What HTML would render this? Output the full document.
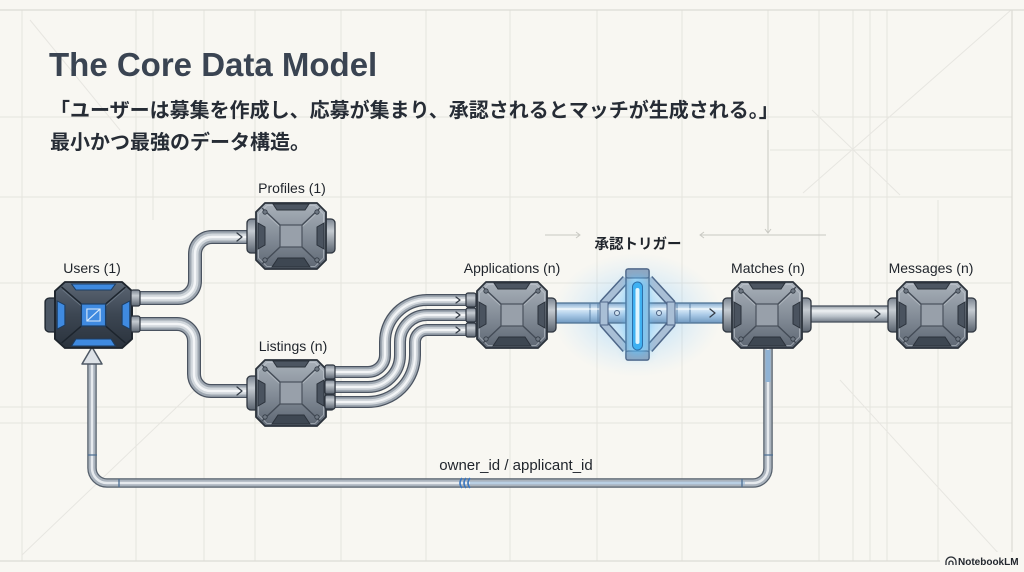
<!DOCTYPE html>
<html><head><meta charset="utf-8">
<style>
html,body{margin:0;padding:0;background:#f8f7f2;overflow:hidden;}
svg{display:block}
.lbl{font-family:"Liberation Sans","Noto Sans CJK JP",sans-serif;font-size:14px;fill:#1f242b;}
</style></head><body>
<svg width="1024" height="572" viewBox="0 0 1024 572" xmlns="http://www.w3.org/2000/svg">
<defs>
  <linearGradient id="gBody" x1="0" y1="0" x2="0" y2="1">
    <stop offset="0" stop-color="#a9b1ba"/><stop offset="0.5" stop-color="#858e99"/><stop offset="1" stop-color="#5d6672"/>
  </linearGradient>
  <linearGradient id="gBodyU" x1="0" y1="0" x2="0" y2="1">
    <stop offset="0" stop-color="#5c6774"/><stop offset="0.5" stop-color="#3c4652"/><stop offset="1" stop-color="#2a323c"/>
  </linearGradient>
  <linearGradient id="gBump" x1="0" y1="0" x2="0" y2="1">
    <stop offset="0" stop-color="#7b8490"/><stop offset="0.35" stop-color="#c5cbd1"/><stop offset="1" stop-color="#5b6470"/>
  </linearGradient>
  <linearGradient id="gBlue" x1="0" y1="0" x2="0" y2="1">
    <stop offset="0" stop-color="#86abcf"/><stop offset="0.3" stop-color="#dcecf8"/><stop offset="0.6" stop-color="#a9c9e6"/><stop offset="1" stop-color="#6f98c0"/>
  </linearGradient>
  <linearGradient id="gGrayPipe" x1="0" y1="0" x2="0" y2="1">
    <stop offset="0" stop-color="#8f98a2"/><stop offset="0.3" stop-color="#eef1f3"/><stop offset="0.65" stop-color="#b8c0c8"/><stop offset="1" stop-color="#717a86"/>
  </linearGradient>
  <linearGradient id="gBar" x1="0" y1="0" x2="1" y2="0">
    <stop offset="0" stop-color="#9cb1c8"/><stop offset="0.4" stop-color="#d6e2ee"/><stop offset="1" stop-color="#a2b7cd"/>
  </linearGradient>
  <radialGradient id="glow" cx="0.5" cy="0.5" r="0.5">
    <stop offset="0" stop-color="#55b6ff" stop-opacity="0.55"/>
    <stop offset="0.5" stop-color="#7cc6ff" stop-opacity="0.25"/>
    <stop offset="1" stop-color="#9fd4ff" stop-opacity="0"/>
  </radialGradient>
  <filter id="blur6" x="-1" y="-1" width="3" height="3"><feGaussianBlur stdDeviation="5"/></filter>

  <path id="pA" d="M134,298 H178 A17,17 0 0 0 195,281 V254 A17,17 0 0 1 212,237 H252" fill="none"/>
  <path id="pB" d="M134,324 H177 A17,17 0 0 1 194,341 V374 A17,17 0 0 0 211,391 H252" fill="none"/>
  <path id="pC1" d="M334,372 H368 A17,17 0 0 0 385,355 V342 A42,42 0 0 1 427,300 H468" fill="none"/>
  <path id="pC2" d="M334,387 H368 A32,32 0 0 0 400,355 V342 A27,27 0 0 1 427,315 H468" fill="none"/>
  <path id="pC3" d="M334,402 H368 A47,47 0 0 0 415,355 V342 A12,12 0 0 1 427,330 H468" fill="none"/>
  <path id="pF" d="M768,346 V468 A15,15 0 0 1 753,483 H107 A15,15 0 0 1 92,468 V362" fill="none"/>

  <g id="gnode">
    <rect x="-44" y="-17" width="12" height="34" rx="4" fill="url(#gBump)" stroke="#2f3640" stroke-width="1.3"/>
    <rect x="32" y="-17" width="12" height="34" rx="4" fill="url(#gBump)" stroke="#2f3640" stroke-width="1.3"/>
    <path d="M-26,-33 H26 L35,-24 V24 L26,33 H-26 L-35,24 V-24 Z" fill="url(#gBody)" stroke="#2b323b" stroke-width="1.8" stroke-linejoin="round"/>
    <path d="M-24,-30.5 H24 L32.5,-22 V22 L24,30.5 H-24 L-32.5,22 V-22 Z" fill="none" stroke="#c9cfd5" stroke-width="0.8" opacity="0.7"/>
    <path d="M-18,-32 H18 L14,-26 H-14 Z" fill="#4c5561" stroke="#2b323b" stroke-width="1"/>
    <path d="M-13,22 H13 L19,31 H-19 Z" fill="#3e4752" stroke="#2b323b" stroke-width="1"/>
    <path d="M-33,-13 L-26,-9 V9 L-33,13 Z" fill="#4a535f" stroke="#2b323b" stroke-width="1"/>
    <path d="M33,-13 L26,-9 V9 L33,13 Z" fill="#4a535f" stroke="#2b323b" stroke-width="1"/>
    <path d="M-11,-11 L-29,-28 M11,-11 L29,-28 M-11,11 L-29,28 M11,11 L29,28" stroke="#444c57" stroke-width="1.4"/>
    <path d="M-11,-9 L-28,-25 M11,-9 L28,-25" stroke="#c3c9cf" stroke-width="0.7" opacity="0.7"/>
    <rect x="-11" y="-11" width="22" height="22" fill="#98a0aa" stroke="#4a525d" stroke-width="1.2"/>
    <g fill="#6f7883" stroke="#323a44" stroke-width="0.8">
      <circle cx="-26" cy="-24" r="2.2"/><circle cx="26" cy="-24" r="2.2"/>
      <circle cx="-26" cy="24" r="2.2"/><circle cx="26" cy="24" r="2.2"/>
    </g>
  </g>

  <g id="unode">
    <rect x="-44" y="-17" width="12" height="34" rx="4" fill="#4c5764" stroke="#1f2730" stroke-width="1.3"/>
    <path d="M-26,-33 H26 L35,-24 V24 L26,33 H-26 L-35,24 V-24 Z" fill="url(#gBodyU)" stroke="#1e252d" stroke-width="1.8" stroke-linejoin="round"/>
    <path d="M-20,-31 H20 L16,-25 H-16 Z" fill="#3f8ae0" stroke="#1c3d63" stroke-width="1"/>
    <path d="M-16,24 H16 L20,31 H-20 Z" fill="#3f8ae0" stroke="#1c3d63" stroke-width="1"/>
    <path d="M-33,-14 L-26,-10 V10 L-33,14 Z" fill="#3f8ae0" stroke="#1c3d63" stroke-width="1"/>
    <path d="M33,-14 L26,-10 V10 L33,14 Z" fill="#3f8ae0" stroke="#1c3d63" stroke-width="1"/>
    <path d="M-11,-11 L-29,-28 M11,-11 L29,-28 M-11,11 L-29,28 M11,11 L29,28" stroke="#1c242d" stroke-width="1.4"/>
    <path d="M-11,-9 L-28,-25 M11,-9 L28,-25" stroke="#6d7987" stroke-width="0.7"/>
    <rect x="-11" y="-11" width="22" height="22" fill="#3f8ae0" stroke="#1c3d63" stroke-width="1.2"/>
    <rect x="-6" y="-6" width="12" height="12" fill="none" stroke="#d8e9fb" stroke-width="1"/>
    <path d="M-6,6 L6,-6" stroke="#d8e9fb" stroke-width="1.2"/>
  </g>
</defs>

<!-- background -->
<rect width="1024" height="572" fill="#f8f7f2"/>

<!-- grid -->
<g stroke="#e5e4de" stroke-width="1" fill="none">
  <path d="M22,10 V561 M136,10 V561 M153,10 V220 M204,10 V561 M255,10 V561 M341,10 V561 M426,10 V561 M510,10 V561 M597,10 V561 M682,10 V561 M768,10 V130 M819,10 V561 M853,10 V561 M870,10 V561 M887,10 V561 M938,200 V561"/>
  <path d="M0,117 H1012 M770,150 H1012 M0,197 H1012 M0,283 H1012 M0,407 H1012 M0,423 H1012"/>
  <path d="M1011,10 L803,193 M812,110 L900,195 M22,555 L200,385 M840,380 L1000,555 M30,20 L120,130" stroke="#e7e6e1"/>
</g>
<path d="M0,10 H1024 M0,561 H940 M1012,10 V561" stroke="#dcdbd5" stroke-width="1.2" fill="none"/>

<!-- dimension arrows -->
<g stroke="#c9c9c3" stroke-width="1" fill="none">
  <path d="M545,235 H580 M576,232 L580,235 L576,238"/>
  <path d="M700,235 H826 M704,232 L700,235 L704,238"/>
  <path d="M768,130 V233 M765,229 L768,233 L771,229"/>
</g>

<!-- title -->
<text x="49" y="76" font-family="Liberation Sans, sans-serif" font-size="33" font-weight="bold" fill="#3a4452">The Core Data Model</text>
<text x="50" y="117" font-family="Liberation Sans, Noto Sans CJK JP, sans-serif" font-size="20" font-weight="bold" fill="#262c35">「ユーザーは募集を作成し、応募が集まり、承認されるとマッチが生成される。」</text>
<text x="50" y="149" font-family="Liberation Sans, Noto Sans CJK JP, sans-serif" font-size="20" font-weight="bold" fill="#262c35">最小かつ最強のデータ構造。</text>

<!-- glow -->
<ellipse cx="637" cy="315" rx="85" ry="62" fill="url(#glow)"/>

<!-- feedback pipe -->
<g fill="none">
  <use href="#pF" stroke="#56606c" stroke-width="9.5"/>
  <use href="#pF" stroke="#aab3bd" stroke-width="7"/>
  <use href="#pF" stroke="#e6eaee" stroke-width="2.5"/>
</g>
<path d="M768,350 V382" stroke="#8fb2d4" stroke-width="5" fill="none"/>
<path d="M470,483 H745" stroke="#9bbcdc" stroke-width="3" fill="none" opacity="0.6"/>
<g stroke="#4d6f93" stroke-width="1.3" fill="none">
  <path d="M119,479 V487 M742,479 V487 M88,455 H97 M764,455 H773"/>
  <path d="M462,478 Q458,483 462,488 M466,478 Q462,483 466,488 M470,478 Q466,483 470,488" stroke="#3b78c0" stroke-width="1.6"/>
</g>
<polygon points="92,347 82,364 102,364" fill="#dde2e7" stroke="#4e5864" stroke-width="1.5" stroke-linejoin="round"/>

<!-- gray pipes -->
<g fill="none">
  <use href="#pA" stroke="#4a5360" stroke-width="14"/>
  <use href="#pA" stroke="#9ea7b1" stroke-width="11.5"/>
  <use href="#pA" stroke="#d1d7dc" stroke-width="7"/>
  <use href="#pA" stroke="#f3f5f7" stroke-width="2.5"/>
  <use href="#pB" stroke="#4a5360" stroke-width="14"/>
  <use href="#pB" stroke="#9ea7b1" stroke-width="11.5"/>
  <use href="#pB" stroke="#d1d7dc" stroke-width="7"/>
  <use href="#pB" stroke="#f3f5f7" stroke-width="2.5"/>

  <use href="#pC1" stroke="#4a5360" stroke-width="12"/>
  <use href="#pC1" stroke="#9ea7b1" stroke-width="9.5"/>
  <use href="#pC1" stroke="#d3d8dd" stroke-width="5.5"/>
  <use href="#pC1" stroke="#f3f5f7" stroke-width="2"/>
  <use href="#pC2" stroke="#4a5360" stroke-width="12"/>
  <use href="#pC2" stroke="#9ea7b1" stroke-width="9.5"/>
  <use href="#pC2" stroke="#d3d8dd" stroke-width="5.5"/>
  <use href="#pC2" stroke="#f3f5f7" stroke-width="2"/>
  <use href="#pC3" stroke="#4a5360" stroke-width="12"/>
  <use href="#pC3" stroke="#9ea7b1" stroke-width="9.5"/>
  <use href="#pC3" stroke="#d3d8dd" stroke-width="5.5"/>
  <use href="#pC3" stroke="#f3f5f7" stroke-width="2"/>
</g>

<!-- Matches -> Messages pipe -->
<rect x="806" y="306" width="86" height="16" fill="url(#gGrayPipe)" stroke="#49525e" stroke-width="1.3"/>

<!-- blue pipe -->
<rect x="550" y="303" width="178" height="20" fill="url(#gBlue)" stroke="#4f7394" stroke-width="1.3"/>
<g stroke="#5d83a8" stroke-width="1" fill="none">
  <path d="M590,303 V323 M598,303 V323 M677,303 V323 M690,303 V323"/>
</g>
<path d="M556,309 H724" stroke="#ffffff" stroke-width="1.5" opacity="0.6"/>

<!-- trigger -->
<g stroke-linecap="butt">
  <path d="M626,279 L603,304 M603,323 L626,349 M649,279 L672,304 M672,323 L649,349" stroke="#4e6688" stroke-width="9" fill="none"/>
  <path d="M626,279 L603,304 M603,323 L626,349 M649,279 L672,304 M672,323 L649,349" stroke="#a9bfd6" stroke-width="6" fill="none"/>
</g>
<rect x="600" y="302" width="8" height="23" fill="#a9bfd6" stroke="#4e6688" stroke-width="1"/>
<rect x="667" y="302" width="8" height="23" fill="#a9bfd6" stroke="#4e6688" stroke-width="1"/>
<g fill="#cfe0ee" stroke="#4b6283" stroke-width="1"><circle cx="617" cy="313" r="2.5"/><circle cx="659" cy="313" r="2.5"/></g>
<rect x="626" y="269" width="23" height="91" rx="2" fill="url(#gBar)" stroke="#4b6283" stroke-width="1.5"/>
<rect x="626" y="269" width="23" height="9" rx="2" fill="#90a6c0" stroke="#4b6283" stroke-width="1.2"/>
<rect x="626" y="351" width="23" height="9" rx="2" fill="#90a6c0" stroke="#4b6283" stroke-width="1.2"/>
<rect x="628" y="278" width="19" height="76" fill="#5cc4ff" filter="url(#blur6)" opacity="0.8"/>
<rect x="632.5" y="282" width="10" height="68" rx="5" fill="#3fb1f2" stroke="#2f6fa8" stroke-width="1"/>
<rect x="635.5" y="288" width="4" height="56" rx="2" fill="#dff5ff"/>

<!-- nodes -->
<use href="#gnode" transform="translate(291,236)"/>
<use href="#gnode" transform="translate(291,393)"/>
<use href="#gnode" transform="translate(512,315)"/>
<use href="#gnode" transform="translate(767,315)"/>
<use href="#gnode" transform="translate(932,315)"/>
<use href="#unode" transform="translate(93.5,315) scale(1.1,1)"/>

<!-- collars -->
<g fill="url(#gBump)" stroke="#2f3640" stroke-width="1.2">
  <rect x="131" y="290" width="9" height="16" rx="2"/>
  <rect x="131" y="316" width="9" height="16" rx="2"/>
  <rect x="325" y="365" width="10" height="14" rx="2"/>
  <rect x="325" y="380" width="10" height="14" rx="2"/>
  <rect x="325" y="395" width="10" height="14" rx="2"/>
  <rect x="466" y="293" width="10" height="14" rx="2"/>
  <rect x="466" y="308" width="10" height="14" rx="2"/>
  <rect x="466" y="323" width="10" height="14" rx="2"/>
</g>

<!-- chevrons -->
<g stroke="#353d47" stroke-width="1.3" fill="none" stroke-linecap="round" stroke-linejoin="round">
  <polyline points="237,233 242,237 237,241"/>
  <polyline points="237,387 242,391 237,395"/>
  <polyline points="456,297 460,300 456,303"/>
  <polyline points="456,312 460,315 456,318"/>
  <polyline points="456,327 460,330 456,333"/>
  <polyline points="710,309 715,313 710,317"/>
  <polyline points="875,310 880,314 875,318"/>
</g>

<!-- labels -->
<text class="lbl" x="292" y="193" text-anchor="middle">Profiles (1)</text>
<text class="lbl" x="92" y="273" text-anchor="middle">Users (1)</text>
<text class="lbl" x="293" y="351" text-anchor="middle">Listings (n)</text>
<text class="lbl" x="512" y="273" text-anchor="middle">Applications (n)</text>
<text class="lbl" x="768" y="273" text-anchor="middle">Matches (n)</text>
<text class="lbl" x="931" y="273" text-anchor="middle">Messages (n)</text>
<text x="638" y="249" text-anchor="middle" font-family="Liberation Sans, Noto Sans CJK JP, sans-serif" font-size="14.5" font-weight="bold" fill="#1f242b">承認トリガー</text>
<text class="lbl" x="516" y="470" text-anchor="middle" style="font-size:15px">owner_id / applicant_id</text>

<!-- NotebookLM -->
<rect x="940" y="552" width="84" height="18" fill="#f8f7f2"/>
<g fill="none" stroke="#2a2f36" stroke-width="1.3">
  <path d="M946,565 V562 A5,5 0 0 1 956,562 V565"/>
  <path d="M949,565 V563 A2,2 0 0 1 953,563 V565"/>
</g>
<text x="958" y="565" font-family="Liberation Sans, sans-serif" font-size="10" font-weight="bold" fill="#22272e">NotebookLM</text>
</svg>
</body></html>
